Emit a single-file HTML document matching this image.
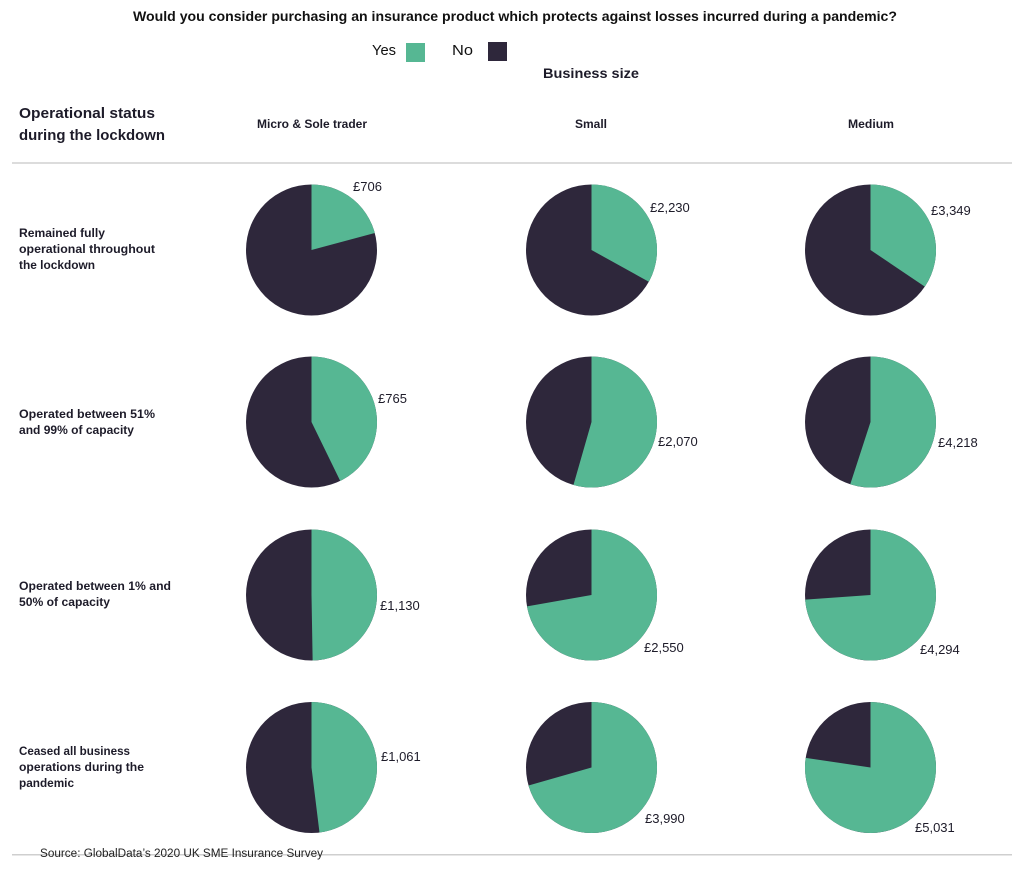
<!DOCTYPE html>
<html><head><meta charset="utf-8"><style>
html,body{margin:0;padding:0;background:#fff;}
svg{display:block;}
text{font-family:"Liberation Sans",sans-serif;fill:#1d1b29;}
.b{font-weight:bold;}
</style></head><body>
<svg width="1024" height="869" viewBox="0 0 1024 869" xmlns="http://www.w3.org/2000/svg">
<rect width="1024" height="869" fill="#fff"/>
<text x="133" y="21" class="b" font-size="14" textLength="764" lengthAdjust="spacingAndGlyphs" style="fill:#111">Would you consider purchasing an insurance product which protects against losses incurred during a pandemic?</text>
<text x="372" y="55" font-size="15" textLength="24" lengthAdjust="spacingAndGlyphs" style="fill:#111">Yes</text>
<rect x="406" y="43" width="19" height="19" fill="#56b793"/>
<text x="452" y="55" font-size="15" textLength="21" lengthAdjust="spacingAndGlyphs" style="fill:#111">No</text>
<rect x="488" y="42" width="19" height="19" fill="#2e273b"/>
<text x="543" y="78" class="b" font-size="14" textLength="96" lengthAdjust="spacingAndGlyphs">Business size</text>
<text x="19" y="118" class="b" font-size="15" textLength="136" lengthAdjust="spacingAndGlyphs">Operational status</text>
<text x="19" y="140" class="b" font-size="15" textLength="146" lengthAdjust="spacingAndGlyphs">during the lockdown</text>
<text x="257" y="128" class="b" font-size="11.5" textLength="110" lengthAdjust="spacingAndGlyphs">Micro &amp; Sole trader</text>
<text x="575" y="128" class="b" font-size="11.5" textLength="32" lengthAdjust="spacingAndGlyphs">Small</text>
<text x="848" y="128" class="b" font-size="11.5" textLength="46" lengthAdjust="spacingAndGlyphs">Medium</text>
<rect x="12" y="162" width="1000" height="2" fill="#dcdcdc"/>

<text class="b" font-size="11.5"><tspan x="19" y="237" textLength="86" lengthAdjust="spacingAndGlyphs">Remained fully</tspan><tspan x="19" y="253" textLength="136" lengthAdjust="spacingAndGlyphs">operational throughout</tspan><tspan x="19" y="269" textLength="76" lengthAdjust="spacingAndGlyphs">the lockdown</tspan></text>
<text class="b" font-size="11.5"><tspan x="19" y="418" textLength="136" lengthAdjust="spacingAndGlyphs">Operated between 51%</tspan><tspan x="19" y="434" textLength="115" lengthAdjust="spacingAndGlyphs">and 99% of capacity</tspan></text>
<text class="b" font-size="11.5"><tspan x="19" y="590" textLength="152" lengthAdjust="spacingAndGlyphs">Operated between 1% and</tspan><tspan x="19" y="606" textLength="91" lengthAdjust="spacingAndGlyphs">50% of capacity</tspan></text>
<text class="b" font-size="11.5"><tspan x="19" y="755" textLength="111" lengthAdjust="spacingAndGlyphs">Ceased all business</tspan><tspan x="19" y="771" textLength="125" lengthAdjust="spacingAndGlyphs">operations during the</tspan><tspan x="19" y="787" textLength="55" lengthAdjust="spacingAndGlyphs">pandemic</tspan></text>

<g>
<!-- Row 1 -->
<circle cx="311.5" cy="250" r="65.5" fill="#2e273b"/>
<path d="M311.5,250 L311.5,184.5 A65.5,65.5 0 0 1 374.77,233.05 Z" fill="#56b793"/>
<circle cx="591.5" cy="250" r="65.5" fill="#2e273b"/>
<path d="M591.5,250 L591.5,184.5 A65.5,65.5 0 0 1 648.79,281.76 Z" fill="#56b793"/>
<circle cx="870.5" cy="250" r="65.5" fill="#2e273b"/>
<path d="M870.5,250 L870.5,184.5 A65.5,65.5 0 0 1 924.8,286.63 Z" fill="#56b793"/>
<!-- Row 2 -->
<circle cx="311.5" cy="422" r="65.5" fill="#2e273b"/>
<path d="M311.5,422 L311.5,356.5 A65.5,65.5 0 0 1 340.21,480.87 Z" fill="#56b793"/>
<circle cx="591.5" cy="422" r="65.5" fill="#2e273b"/>
<path d="M591.5,422 L591.5,356.5 A65.5,65.5 0 1 1 573.45,484.96 Z" fill="#56b793"/>
<circle cx="870.5" cy="422" r="65.5" fill="#2e273b"/>
<path d="M870.5,422 L870.5,356.5 A65.5,65.5 0 1 1 850.26,484.3 Z" fill="#56b793"/>
<!-- Row 3 -->
<circle cx="311.5" cy="595" r="65.5" fill="#2e273b"/>
<path d="M311.5,595 L311.5,529.5 A65.5,65.5 0 0 1 312.64,660.49 Z" fill="#56b793"/>
<circle cx="591.5" cy="595" r="65.5" fill="#2e273b"/>
<path d="M591.5,595 L591.5,529.5 A65.5,65.5 0 1 1 527,606.37 Z" fill="#56b793"/>
<circle cx="870.5" cy="595" r="65.5" fill="#2e273b"/>
<path d="M870.5,595 L870.5,529.5 A65.5,65.5 0 1 1 805.16,599.57 Z" fill="#56b793"/>
<!-- Row 4 -->
<circle cx="311.5" cy="767.5" r="65.5" fill="#2e273b"/>
<path d="M311.5,767.5 L311.5,702 A65.5,65.5 0 0 1 319.48,832.51 Z" fill="#56b793"/>
<circle cx="591.5" cy="767.5" r="65.5" fill="#2e273b"/>
<path d="M591.5,767.5 L591.5,702 A65.5,65.5 0 1 1 528.54,785.55 Z" fill="#56b793"/>
<circle cx="870.5" cy="767.5" r="65.5" fill="#2e273b"/>
<path d="M870.5,767.5 L870.5,702 A65.5,65.5 0 1 1 805.72,757.82 Z" fill="#56b793"/>
</g>

<g font-size="13">
<text x="353" y="191">£706</text>
<text x="650" y="212">£2,230</text>
<text x="931" y="215">£3,349</text>
<text x="378" y="403">£765</text>
<text x="658" y="446">£2,070</text>
<text x="938" y="447">£4,218</text>
<text x="380" y="610">£1,130</text>
<text x="644" y="652">£2,550</text>
<text x="920" y="654">£4,294</text>
<text x="381" y="761">£1,061</text>
<text x="645" y="823">£3,990</text>
<text x="915" y="832">£5,031</text>
</g>

<rect x="12" y="854" width="1000" height="1.5" fill="#cfcfcf"/>
<text x="40" y="857" font-size="11.5" textLength="283" lengthAdjust="spacingAndGlyphs" style="fill:#222">Source: GlobalData’s 2020 UK SME Insurance Survey</text>
</svg>
</body></html>
